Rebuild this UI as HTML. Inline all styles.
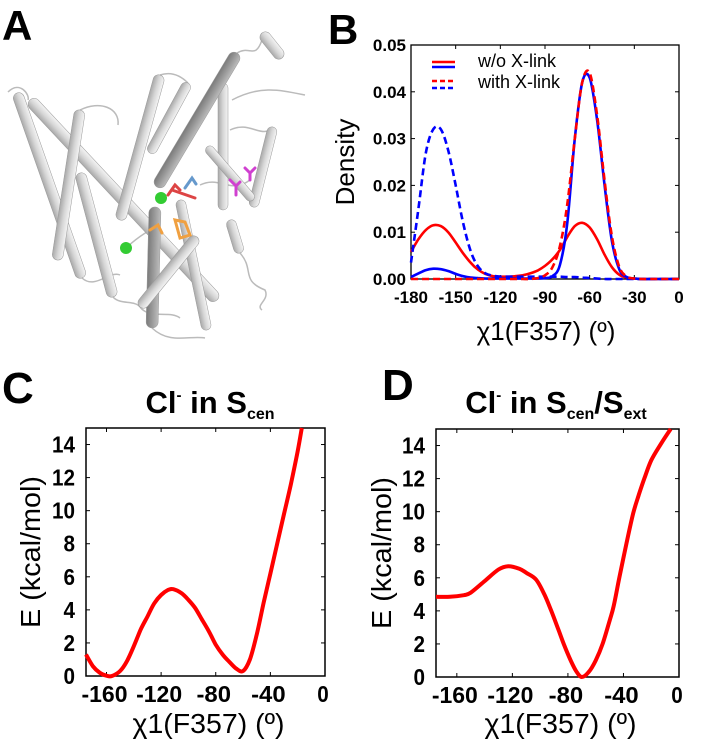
<!DOCTYPE html>
<html><head><meta charset="utf-8"><style>
html,body{margin:0;padding:0;background:#fff;width:702px;height:746px;overflow:hidden}
svg{display:block;font-family:"Liberation Sans",Arial,sans-serif}
</style></head><body>
<svg id="fig" width="702" height="746" viewBox="0 0 702 746">
<defs>
<linearGradient id="cyl" x1="0" y1="0" x2="0" y2="1"><stop offset="0" stop-color="#f4f4f4"/><stop offset="0.5" stop-color="#d6d6d6"/><stop offset="1" stop-color="#a8a8a8"/></linearGradient>
<linearGradient id="cyld" x1="0" y1="0" x2="0" y2="1"><stop offset="0" stop-color="#bcbcbc"/><stop offset="0.5" stop-color="#9a9a9a"/><stop offset="1" stop-color="#7a7a7a"/></linearGradient>
</defs>
<g id="panelA"></g>
<text x="2" y="40" font-size="42" font-weight="bold">A</text>
<text x="328" y="44" font-size="42" font-weight="bold">B</text>
<text x="2" y="403" font-size="44" font-weight="bold">C</text>
<text x="382" y="400" font-size="44" font-weight="bold">D</text>
<g id="panelB"></g>
<g id="panelC"></g>
<g id="panelD"></g>
</svg>
<script>
// ---- Panel B data ----
const bX = [-180,-175,-170,-165,-160,-155,-150,-145,-140,-135,-130,-125,-120,-115,-110,-105,-100,-95,-90,-85,-80,-75,-70,-65,-60,-55,-50,-45,-40,-35,-30,-25,-20,-15,-10,-5,0];
const redSolid = [.0058,.0085,.0105,.0115,.0113,.0100,.0078,.0055,.0035,.0020,.0011,.0006,.0005,.0005,.0006,.0008,.0012,.0018,.0028,.0042,.0062,.0090,.0113,.0120,.0110,.0085,.0052,.0025,.0009,.0003,.0001,0,0,0,0,0,0];
const blueSolid = [.0004,.0012,.0019,.0022,.0021,.0017,.0011,.0006,.0003,.0002,.0001,.0001,.0001,.0001,.0001,.0001,.0001,.0001,.0002,.0006,.0030,.0120,.0300,.0420,.0430,.0340,.0200,.0080,.0020,.0004,.0001,0,0,0,0,0,0];
const redDash = [0,0,0,0,0,0,0,0,0,0,0,0,0,0,0,0,0,.0002,.0008,.0025,.0070,.0160,.0300,.0420,.0440,.0350,.0210,.0090,.0025,.0005,.0001,0,0,0,0,0,0];
const blueDash = [.0035,.0150,.0270,.0320,.0320,.0275,.0200,.0120,.0060,.0027,.0012,.0007,.0005,.0005,.0005,.0005,.0005,.0005,.0005,.0005,.0005,.0004,.0004,.0003,.0002,.0001,0,0,0,0,0,0,0,0,0,0,0];
const bXTicks = [-180,-150,-120,-90,-60,-30,0];
const bYTicks = [0,0.01,0.02,0.03,0.04,0.05];
const bYLabels = ["0.00","0.01","0.02","0.03","0.04","0.05"];
// ---- Panel C data ----
const cX = [-175,-170,-165,-160,-156,-150,-145,-140,-135,-130,-125,-120,-115,-111,-105,-100,-95,-90,-85,-80,-75,-70,-65,-60,-55,-50,-45,-40,-35,-30,-25,-20,-17];
const cE = [1.3,0.6,0.2,0.02,0.0,0.3,0.9,1.8,2.8,3.6,4.4,4.9,5.2,5.25,5.0,4.6,4.1,3.4,2.7,1.9,1.3,0.85,0.45,0.3,1.0,2.5,4.4,6.2,8.0,9.8,11.6,13.6,15.0];
// ---- Panel D data ----
const dX = [-175,-165,-155,-150,-140,-130,-123,-115,-110,-103,-97,-92,-87,-83,-78,-74,-70,-65,-60,-55,-50,-47,-43,-38,-33,-29,-25,-20,-13,-6];
const dE = [4.85,4.85,4.95,5.1,5.8,6.5,6.7,6.55,6.3,5.9,5.0,4.0,2.9,2.0,1.0,0.35,0.0,0.3,1.0,2.0,3.4,4.3,6.0,8.0,9.9,11.0,12.0,13.1,14.1,15.0];
const eXTicks = [-160,-120,-80,-40,0];
const eYTicks = [0,2,4,6,8,10,12,14];

const NS="http://www.w3.org/2000/svg";
function mk(parent,tag,attrs,text){const e=document.createElementNS(NS,tag);for(const k in attrs)e.setAttribute(k,attrs[k]);if(text!==undefined)e.textContent=text;parent.appendChild(e);return e;}
function smooth(pts){let d="M"+pts[0][0].toFixed(1)+","+pts[0][1].toFixed(1);
 for(let i=0;i<pts.length-1;i++){const p0=pts[i-1]||pts[i],p1=pts[i],p2=pts[i+1],p3=pts[i+2]||p2;
  const c1=[p1[0]+(p2[0]-p0[0])/6,p1[1]+(p2[1]-p0[1])/6],c2=[p2[0]-(p3[0]-p1[0])/6,p2[1]-(p3[1]-p1[1])/6];
  d+="C"+c1[0].toFixed(1)+","+c1[1].toFixed(1)+" "+c2[0].toFixed(1)+","+c2[1].toFixed(1)+" "+p2[0].toFixed(1)+","+p2[1].toFixed(1);}
 return d;}

// ---- Panel A: cylinders ----
const A=document.getElementById('panelA');
const cyls=[[30,100,217,300,12,0],[17,93,82,278,11,0],[80,110,57,260,11,0],[80,173,113,297,11,0],[160,75,120,220,11,0],[188,83,150,153,10,0],[223,83,223,210,10,0],[273,127,253,207,10,0],[207,147,253,200,9,0],[230,220,240,253,10,0],[180,200,207,330,10,0],[237,53,157,187,12,1],[155,207,152,328,12,1],[197,237,140,307,11,0],[262,33,282,58,11,0]];
const loops=["M8,92 C20,80 30,95 28,100","M80,110 C100,100 120,108 118,125","M160,75 C175,70 185,80 188,83","M237,53 C250,45 255,60 262,40","M232,100 C260,85 280,90 305,95","M230,130 C250,120 262,140 273,127","M82,278 C95,290 110,270 120,275","M140,307 C150,320 170,310 180,318","M152,328 C170,345 190,335 205,338","M240,253 C255,270 240,280 265,290 C270,300 255,305 262,310","M113,297 C120,305 135,300 140,307","M126,248 C140,235 150,230 160,225","M200,185 C220,175 230,195 250,180"];
loops.forEach(d=>{const p=mk(A,'path',{d:d,fill:'none',stroke:'#bbb','stroke-width':1.5});

});
cyls.forEach(c=>{const [x1,y1,x2,y2,w,dk]=c;const L=Math.hypot(x2-x1,y2-y1),ang=Math.atan2(y2-y1,x2-x1)*180/Math.PI;
 const g=mk(A,'g',{transform:`translate(${x1},${y1}) rotate(${ang})`});
 
 
 mk(g,'rect',{x:0,y:-w/2,width:L,height:w,rx:w/2,fill:dk?'url(#cyld)':'url(#cyl)',stroke:'#999','stroke-width':0.5});});
[[161,198],[126,248]].forEach(p=>{const c=mk(A,'circle',{cx:p[0],cy:p[1],r:6,fill:'#33cc33'});

});
const res=[["M168,195 L175,185 L180,190 M172,190 L195,198","#d44"],["M185,188 L192,178 L196,184","#6699cc"],["M150,230 L158,225 L162,233","#f0a040"],["M175,220 L185,222 L190,235 L180,238 Z","#f0a040"],["M230,180 L236,186 L240,182 M236,186 L236,195","#d040d0"],["M245,168 L250,173 L255,168 M250,173 L250,180","#d040d0"]];
res.forEach(r=>{const p=mk(A,'path',{d:r[0],fill:'none',stroke:r[1],'stroke-width':3,'stroke-linecap':'round'});

});

// ---- Panel B chart ----
const B=document.getElementById('panelB');
const bx0=411,bx1=679,by0=279,by1=45;
const bxs=v=>bx0+(v+180)/180*(bx1-bx0), bys=v=>by0+(v/0.05)*(by1-by0);
const bf=mk(B,'rect',{x:bx0,y:by1,width:bx1-bx0,height:by0-by1,fill:'none',stroke:'#000','stroke-width':1.3});


bXTicks.forEach(t=>{const x=bxs(t);mk(B,'line',{x1:x,y1:by0,x2:x,y2:by0-4,stroke:'#000'});mk(B,'line',{x1:x,y1:by1,x2:x,y2:by1+4,stroke:'#000'});
 const tx=mk(B,'text',{x:x,y:by0+24,'font-size':17,'font-weight':'bold','text-anchor':'middle'},String(t));
 
 });
bYTicks.forEach((t,i)=>{const y=bys(t);mk(B,'line',{x1:bx0,y1:y,x2:bx0+4,y2:y,stroke:'#000'});mk(B,'line',{x1:bx1,y1:y,x2:bx1-4,y2:y,stroke:'#000'});
 const tx=mk(B,'text',{x:bx0-5,y:y+6,'font-size':17,'font-weight':'bold','text-anchor':'end'},bYLabels[i]);
 
 });
const bser=[[redSolid,'#ff0000',''],[blueSolid,'#0000ff',''],[blueDash,'#0000ff','7,4'],[redDash,'#ff0000','7,4']];
bser.forEach(s=>{const p=mk(B,'path',{d:smooth(bX.map((x,i)=>[bxs(x),bys(s[0][i])])),fill:'none',stroke:s[1],'stroke-width':2.6,'stroke-dasharray':s[2]});
 
 });
mk(B,'line',{x1:432,y1:62,x2:455,y2:62,stroke:'#f00','stroke-width':2.6});
mk(B,'line',{x1:432,y1:67,x2:455,y2:67,stroke:'#00f','stroke-width':2.6});
mk(B,'line',{x1:432,y1:81,x2:455,y2:81,stroke:'#f00','stroke-width':2.6,'stroke-dasharray':'5,3'});
mk(B,'line',{x1:432,y1:88,x2:455,y2:88,stroke:'#00f','stroke-width':2.6,'stroke-dasharray':'5,3'});
let t=mk(B,'text',{x:478,y:67,'font-size':18},'w/o X-link');


t=mk(B,'text',{x:478,y:88,'font-size':18},'with X-link');


t=mk(B,'text',{x:0,y:0,'font-size':26,'text-anchor':'middle',transform:'translate(354,162) rotate(-90)'},'Density');


t=mk(B,'text',{x:546,y:340,'font-size':26,'text-anchor':'middle'},'χ1(F357) (º)');



// ---- Energy panels ----
function energy(G,x0,x1,y0,y1,xs,es,titleParts,tcx,ylx){
 const sx=v=>x0+(v+175)/175*(x1-x0), sy=v=>y0+v/15*(y1-y0);
 const f=mk(G,'rect',{x:x0,y:y1,width:x1-x0,height:y0-y1,fill:'none',stroke:'#000','stroke-width':1.5});
 
 
 eXTicks.forEach(t=>{const x=sx(t);mk(G,'line',{x1:x,y1:y0,x2:x,y2:y0-4,stroke:'#000'});mk(G,'line',{x1:x,y1:y1,x2:x,y2:y1+4,stroke:'#000'});
  const s=String(t);const tx=mk(G,'text',{x:x-2,y:y0+26,'font-size':23,'font-weight':'bold','text-anchor':'middle',textLength:s.length*11.5,lengthAdjust:'spacingAndGlyphs'},s);
  
  });
 eYTicks.forEach(t=>{const y=sy(t);mk(G,'line',{x1:x0,y1:y,x2:x0+4,y2:y,stroke:'#000'});mk(G,'line',{x1:x1,y1:y,x2:x1-4,y2:y,stroke:'#000'});
  const s=String(t);const tx=mk(G,'text',{x:x0-11,y:y+8,'font-size':23,'font-weight':'bold','text-anchor':'end',textLength:s.length*11.5,lengthAdjust:'spacingAndGlyphs'},s);
  
  });
 const p=mk(G,'path',{d:smooth(xs.map((x,i)=>[sx(x),sy(es[i])])),fill:'none',stroke:'#ff0000','stroke-width':4,'stroke-linejoin':'round'});
 
 
 let tx=mk(G,'text',{x:0,y:0,'font-size':28,'text-anchor':'middle',transform:`translate(${ylx},${(y0+y1)/2}) rotate(-90)`,textLength:152,lengthAdjust:'spacingAndGlyphs'},'E (kcal/mol)');
 
 
 tx=mk(G,'text',{x:(x0+x1)/2+3,y:733,'font-size':28,'text-anchor':'middle',textLength:152,lengthAdjust:'spacingAndGlyphs'},'χ1(F357) (º)');
 
 
 tx=mk(G,'text',{x:tcx,y:413,'font-size':31,'font-weight':'bold','text-anchor':'middle'});
 
 
 titleParts.forEach(pt=>{mk(tx,'tspan',pt[1]||{},pt[0]);});
}
energy(document.getElementById('panelC'),86,325,676,428,cX,cE,[["Cl"],["-",{'font-size':15,dy:-13}],[" in S",{'font-size':31,dy:13}],["cen",{'font-size':16,dy:6}]],210,40);
energy(document.getElementById('panelD'),436,679,677,429,dX,dE,[["Cl"],["-",{'font-size':15,dy:-13}],[" in S",{'font-size':31,dy:13}],["cen",{'font-size':16,dy:6}],["/S",{'font-size':31,dy:-6}],["ext",{'font-size':16,dy:6}]],556,391);
</script>
</body></html>
